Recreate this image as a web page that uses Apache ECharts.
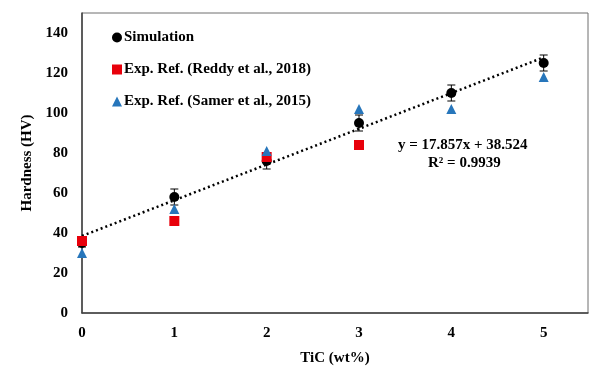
<!DOCTYPE html>
<html>
<head>
<meta charset="utf-8">
<script src="https://cdn.jsdelivr.net/npm/echarts@6/dist/echarts.min.js"></script>
<style>
    html, body { margin: 0; padding: 0; background: #fff; }
    #chart { width: 591px; height: 371px; }
</style>
</head>
<body>
<div id="chart"></div>
<script>
// TiC content (wt%)
const tic = [0, 1, 2, 3, 4, 5];
// hardness values
const simulation = [35, 58, 76, 95, 110, 125];
const simError = [2, 4, 4, 4, 4, 4];
const reddyX = [0, 1, 2, 3];
const reddy = [36, 46, 78, 84];
const samer = [30, 52, 81, 102, 102, 118];
// linear trendline end points (y = 17.857x + 38.524)
const trendX = [0, 5];
const trendY = [38.524, 127.809];
const yTicks = [0, 20, 40, 60, 80, 100, 120, 140];

const serif = '"Liberation Serif", "Times New Roman", serif';

let chart = echarts.init(document.getElementById('chart'));

let option = {
    animation: false,
    grid: {
        left: 82,
        right: 2,
        top: 13,
        bottom: 54,
        show: true,
        borderColor: '#6e6e6e',
        borderWidth: 1
    },
    legend: {
        orient: 'vertical',
        left: 107,
        top: 25,
        itemWidth: 10,
        itemHeight: 10,
        itemGap: 17,
        data: ['Simulation', 'Exp. Ref. (Reddy et al., 2018)', 'Exp. Ref. (Samer et al., 2015)'],
        textStyle: { fontFamily: serif, fontWeight: 'bold', fontSize: 15, color: '#000', padding: [0, 0, 0, -3] }
    },
    xAxis: {
        type: 'value',
        min: 0,
        max: 5.48,
        interval: 1,
        name: 'TiC (wt%)',
        nameLocation: 'middle',
        nameGap: 38,
        nameTextStyle: { fontFamily: serif, fontWeight: 'bold', fontSize: 15, color: '#000' },
        axisLine: { lineStyle: { color: '#404040', width: 1.5 } },
        axisTick: { show: false },
        splitLine: { show: false },
        axisLabel: {
            margin: 13,
            fontFamily: serif, fontWeight: 'bold', fontSize: 15, color: '#000',
            formatter: v => tic.indexOf(v) >= 0 ? String(v) : ''
        }
    },
    yAxis: {
        type: 'value',
        min: 0,
        max: 150,
        interval: 20,
        name: 'Hardness (HV)',
        nameLocation: 'middle',
        nameGap: 47,
        nameTextStyle: { fontFamily: serif, fontWeight: 'bold', fontSize: 15, color: '#000' },
        axisLine: { show: true, lineStyle: { color: '#404040', width: 1.5 } },
        axisTick: { show: false },
        splitLine: { show: false },
        axisLabel: {
            margin: 14,
            fontFamily: serif, fontWeight: 'bold', fontSize: 15, color: '#000',
            formatter: v => yTicks.indexOf(v) >= 0 ? String(v) : ''
        }
    },
    graphic: [
        {
            type: 'text',
            left: 398,
            top: 138,
            style: { text: 'y = 17.857x + 38.524', font: 'bold 15px ' + serif, fill: '#000' }
        },
        {
            type: 'text',
            left: 428,
            top: 156,
            style: { text: 'R² = 0.9939', font: 'bold 15px ' + serif, fill: '#000' }
        }
    ],
    series: [
        {
            name: 'trend',
            type: 'line',
            data: trendX.map((x, i) => [x, trendY[i]]),
            symbol: 'none',
            lineStyle: { color: '#000', width: 2.5, type: [2, 3] },
            z: 1
        },
        {
            name: 'error',
            type: 'custom',
            data: tic.map((x, i) => [x, simulation[i] - simError[i], simulation[i] + simError[i]]),
            renderItem: function (params, api) {
                let lo = api.coord([api.value(0), api.value(1)]);
                let hi = api.coord([api.value(0), api.value(2)]);
                let w = 4;
                let style = { stroke: '#000', lineWidth: 1 };
                return {
                    type: 'group',
                    children: [
                        { type: 'line', shape: { x1: lo[0], y1: lo[1], x2: hi[0], y2: hi[1] }, style: style },
                        { type: 'line', shape: { x1: lo[0] - w, y1: lo[1], x2: lo[0] + w, y2: lo[1] }, style: style },
                        { type: 'line', shape: { x1: hi[0] - w, y1: hi[1], x2: hi[0] + w, y2: hi[1] }, style: style }
                    ]
                };
            },
            z: 2
        },
        {
            name: 'Simulation',
            type: 'scatter',
            data: tic.map((x, i) => [x, simulation[i]]),
            symbol: 'circle',
            symbolSize: 10,
            itemStyle: { color: '#000', opacity: 1 },
            z: 3
        },
        {
            name: 'Exp. Ref. (Reddy et al., 2018)',
            type: 'scatter',
            data: reddyX.map((x, i) => [x, reddy[i]]),
            symbol: 'rect',
            symbolSize: 10,
            itemStyle: { color: '#e8000b', opacity: 1 },
            z: 4
        },
        {
            name: 'Exp. Ref. (Samer et al., 2015)',
            type: 'scatter',
            data: tic.map((x, i) => [x, samer[i]]),
            symbol: 'triangle',
            symbolSize: 10,
            itemStyle: { color: '#2776bb', opacity: 1 },
            z: 5
        }
    ]
};

chart.setOption(option);
</script>
</body>
</html>
